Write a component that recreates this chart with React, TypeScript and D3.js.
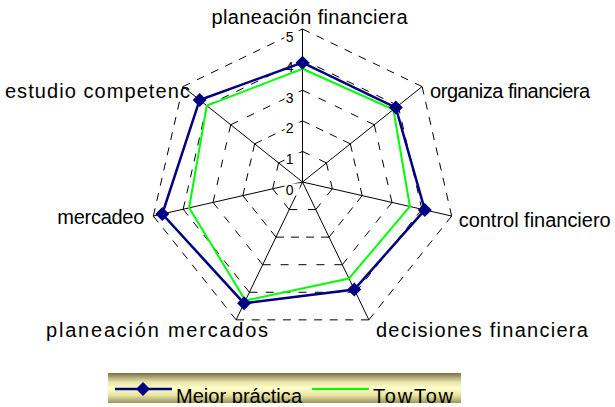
import React from 'react';
import * as d3 from 'd3';

const categories = [
  'planeación financiera',
  'organiza financiera',
  'control financiero',
  'decisiones financiera',
  'planeación mercados',
  'mercadeo',
  'estudio competenc',
];
const mejorPractica = [3.9, 3.9, 4.1, 3.9, 4.4, 4.7, 4.3];
const towTow = [3.7, 3.8, 3.6, 3.5, 4.3, 3.8, 4.0];
const tickValues = [0, 1, 2, 3, 4, 5];
const seriesNames = ['Mejor práctica', 'TowTow'];

const FONT = '"Liberation Sans", Arial, sans-serif';
const BLUE = '#000080';
const GREEN = '#00FF00';

// label placement relative to outer vertex: [dx, dy, anchor, rendered width]
const LABEL_LAYOUT: [number, number, string, number][] = [
  [7, -5, 'middle', 196],
  [8, 11, 'start', 160],
  [7, 11, 'start', 152],
  [7, 17, 'start', 212],
  [32, 17, 'end', 222],
  [-9, 8, 'end', 87],
  [7, 11, 'end', 185],
];

export default function App() {
  const W = 615;
  const H = 407;
  const cx = 302.5;
  const cy = 182;
  const n = categories.length;
  const r = d3.scaleLinear().domain([0, 5]).range([0, 153]);
  const ang = (i: number) => (i * 2 * Math.PI) / n;
  const pt = (i: number, v: number): [number, number] => [
    cx + r(v) * Math.sin(ang(i)),
    cy - r(v) * Math.cos(ang(i)),
  ];

  const radial = d3
    .lineRadial<number>()
    .angle((_, i) => ang(i))
    .radius((v) => r(v))
    .curve(d3.curveLinearClosed);

  const diamond = d3.symbol(d3.symbolSquare, 98)()!;

  const gridEdges: JSX.Element[] = [];
  tickValues.slice(1).forEach((t) => {
    for (let i = 0; i < n; i++) {
      const [x1, y1] = pt(i, t);
      const [x2, y2] = pt((i + 1) % n, t);
      const L = Math.hypot(x2 - x1, y2 - y1);
      const dash = 8;
      const k = Math.max(2, Math.round((L + 8.5) / (dash + 8.5)));
      const gap = (L - k * dash) / (k - 1);
      gridEdges.push(
        <line
          key={`g${t}-${i}`}
          x1={x1}
          y1={y1}
          x2={x2}
          y2={y2}
          stroke="#000"
          strokeWidth={1}
          strokeDasharray={`${dash} ${gap}`}
        />
      );
    }
  });

  return (
    <svg
      width={W}
      height={H}
      style={{ position: 'absolute', left: 0, top: 0, background: '#fff' }}
      fontFamily={FONT}
    >
      <defs>
        <linearGradient id="lg" x1="0" y1="0" x2="0" y2="1">
          <stop offset="0" stopColor="#77714a" />
          <stop offset="0.3" stopColor="#e8e4a8" />
          <stop offset="0.5" stopColor="#ffffcc" />
          <stop offset="0.75" stopColor="#e6e2a0" />
          <stop offset="1" stopColor="#9a9460" />
        </linearGradient>
        <clipPath id="legclip">
          <rect x={108} y={373} width={353} height={30} />
        </clipPath>
      </defs>
      <rect x={0} y={0} width={W} height={H} fill="#fff" />

      {gridEdges}

      {categories.map((c, i) => {
        const [x, y] = pt(i, 5);
        return <line key={`ax${i}`} x1={cx} y1={cy} x2={x} y2={y} stroke="#000" strokeWidth={1} />;
      })}

      {tickValues.map((t) => (
        <g key={`t${t}`}>
          <rect x={cx - 18} y={cy - r(t) + 1.5} width={15} height={12} fill="#fff" />
          <text x={cx - 9} y={cy - r(t) + 12.5} fontSize={14} textAnchor="end" fill="#000">
            {t}
          </text>
        </g>
      ))}

      <path
        d={radial(mejorPractica)!}
        transform={`translate(${cx},${cy})`}
        fill="none"
        stroke={BLUE}
        strokeWidth={2.5}
      />
      <path
        d={radial(towTow)!}
        transform={`translate(${cx},${cy})`}
        fill="none"
        stroke={GREEN}
        strokeWidth={2}
      />
      {mejorPractica.map((v, i) => {
        const [x, y] = pt(i, v);
        return <path key={`m${i}`} d={diamond} transform={`translate(${x},${y}) rotate(45)`} fill={BLUE} />;
      })}

      {categories.map((c, i) => {
        const [x, y] = pt(i, 5);
        const [dx, dy, anchor, w] = LABEL_LAYOUT[i];
        return (
          <text
            key={`c${i}`}
            x={x + dx}
            y={y + dy}
            fontSize={20}
            textAnchor={anchor as any}
            textLength={w}
            lengthAdjust="spacing"
            fill="#000"
          >
            {c}
          </text>
        );
      })}

      <rect x={108} y={373} width={353} height={30} fill="url(#lg)" />
      <g clipPath="url(#legclip)">
        <line x1={115} y1={389} x2={172} y2={389} stroke={BLUE} strokeWidth={2.5} />
        <path d={diamond} transform="translate(143,389) rotate(45)" fill={BLUE} />
        <text x={176} y={403} fontSize={20} fill="#000" textLength={126} lengthAdjust="spacing">
          {seriesNames[0]}
        </text>
        <line x1={312} y1={389} x2={369} y2={389} stroke={GREEN} strokeWidth={2} />
        <text x={373} y={403} fontSize={20} fill="#000" textLength={80} lengthAdjust="spacing">
          {seriesNames[1]}
        </text>
      </g>
    </svg>
  );
}
